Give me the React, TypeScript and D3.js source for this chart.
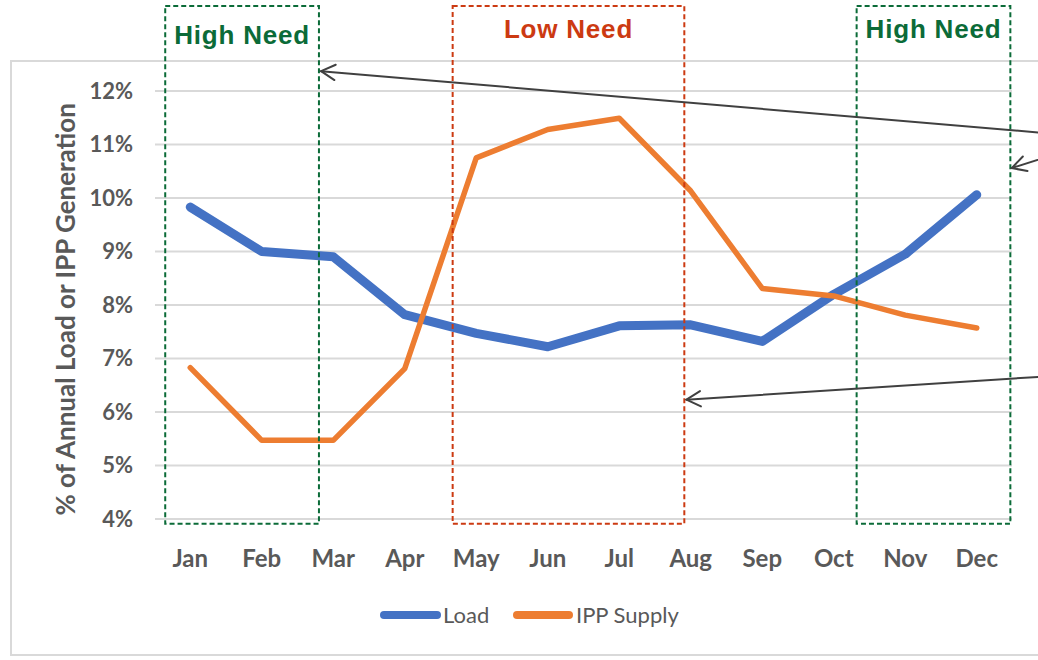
import { scaleBand, scaleLinear, line } from "d3";

const months = ["Jan", "Feb", "Mar", "Apr", "May", "Jun", "Jul", "Aug", "Sep", "Oct", "Nov", "Dec"];
const loadPct = [9.83, 9.0, 8.9, 7.82, 7.47, 7.22, 7.61, 7.63, 7.32, 8.2, 8.95, 10.06];
const ippPct = [6.83, 5.47, 5.47, 6.81, 10.75, 11.28, 11.49, 10.13, 8.31, 8.17, 7.81, 7.57];
const yTicks = [4, 5, 6, 7, 8, 9, 10, 11, 12];

// need zones, in month-index / percent units
const zones = [
  { label: "High Need", from: -0.35, to: 1.8, color: "#0B6B38", labelY: 12.88 },
  { label: "Low Need", from: 3.67, to: 6.91, color: "#CC3A12", labelY: 12.99 },
  { label: "High Need", from: 9.32, to: 11.47, color: "#0B6B38", labelY: 12.99 },
];
const zoneTop = 13.59;
const zoneBottom = 3.91;

// callout arrows: tail -> tip
const arrows = [
  { x1: 11.9, y1: 11.22, x2: 1.83, y2: 12.37 },
  { x1: 11.96, y1: 10.76, x2: 11.49, y2: 10.56 },
  { x1: 11.9, y1: 6.66, x2: 6.94, y2: 6.23 },
];

const series = [
  { name: "Load", values: loadPct, color: "#4472C4", width: 9 },
  { name: "IPP Supply", values: ippPct, color: "#ED7D31", width: 5.5 },
];

const FONT = "Lato, 'Open Sans', sans-serif";
const GRAY = "#595959";

export default function App() {
  const width = 1038;
  const height = 660;
  const x = scaleBand().domain(months).range([154.5, 1012.5]).padding(0);
  const bw = x.bandwidth();
  const cx = (m: string) => (x(m) ?? 0) + bw / 2;
  const xi = scaleLinear().domain([0, 11]).range([cx("Jan"), cx("Dec")]);
  const y = scaleLinear().domain([4, 12]).range([519, 91]);

  const mkLine = line<number>()
    .x((_, i) => cx(months[i]))
    .y((d) => y(d));

  const head = (a: (typeof arrows)[number]) => {
    const tx = xi(a.x2), ty = y(a.y2);
    const ang = Math.atan2(y(a.y1) - ty, xi(a.x1) - tx);
    const len = 16, spread = 0.5;
    const p1 = [tx + len * Math.cos(ang - spread), ty + len * Math.sin(ang - spread)];
    const p2 = [tx + len * Math.cos(ang + spread), ty + len * Math.sin(ang + spread)];
    return `M${p1[0]},${p1[1]}L${tx},${ty}L${p2[0]},${p2[1]}`;
  };

  return (
    <svg
      width={width}
      height={height}
      style={{ position: "absolute", left: 0, top: 0, background: "#fff" }}
      fontFamily={FONT}
    >
      {/* chart frame */}
      <rect x={11} y={61} width={1040} height={594} fill="none" stroke="#D9D9D9" strokeWidth={2} />

      {/* gridlines */}
      {yTicks.map((t) => (
        <line key={`g${t}`} x1={155} x2={1012} y1={y(t)} y2={y(t)} stroke="#D9D9D9" strokeWidth={2} />
      ))}

      {/* y tick labels */}
      {yTicks.map((t) => (
        <text
          key={`t${t}`}
          x={133}
          y={y(t)}
          dy="0.35em"
          textAnchor="end"
          fontSize={22}
          fontWeight="bold"
          fill={GRAY}
        >
          {t}%
        </text>
      ))}

      {/* month labels */}
      {months.map((m) => (
        <text key={m} x={cx(m)} y={567} textAnchor="middle" fontSize={24} fontWeight="bold" fill={GRAY}>
          {m}
        </text>
      ))}

      {/* y axis title */}
      <text
        transform={`translate(75, ${y(7.92)}) rotate(-90)`}
        textAnchor="middle"
        fontSize={26}
        fontWeight="bold"
        fill={GRAY}
      >
        % of Annual Load or IPP Generation
      </text>

      {/* series */}
      {series.map((s) => (
        <path
          key={s.name}
          d={mkLine(s.values) ?? ""}
          fill="none"
          stroke={s.color}
          strokeWidth={s.width}
          strokeLinejoin="round"
          strokeLinecap="round"
        />
      ))}

      {/* need zones */}
      {zones.map((z, i) => (
        <g key={`z${i}`}>
          <rect
            x={xi(z.from)}
            y={y(zoneTop)}
            width={xi(z.to) - xi(z.from)}
            height={y(zoneBottom) - y(zoneTop)}
            fill="none"
            stroke={z.color}
            strokeWidth={2}
            strokeDasharray="5 3"
          />
          <text
            x={(xi(z.from) + xi(z.to)) / 2}
            y={y(z.labelY)}
            textAnchor="middle"
            fontFamily="'Liberation Sans', Arial, sans-serif"
            fontSize={26}
            letterSpacing={0.8}
            fontWeight="bold"
            fill={z.color}
          >
            {z.label}
          </text>
        </g>
      ))}

      {/* callout arrows */}
      {arrows.map((a, i) => (
        <g key={`a${i}`} stroke="#404040" strokeWidth={2} fill="none" strokeLinecap="round">
          <line x1={xi(a.x1)} y1={y(a.y1)} x2={xi(a.x2)} y2={y(a.y2)} />
          <path d={head(a)} />
        </g>
      ))}

      {/* legend */}
      <g>
        <line x1={384} x2={437} y1={615} y2={615} stroke="#4472C4" strokeWidth={8} strokeLinecap="round" />
        <text x={443} y={615} dy="0.35em" fontSize={22} fill={GRAY}>Load</text>
        <line x1={517} x2={569} y1={615} y2={615} stroke="#ED7D31" strokeWidth={8} strokeLinecap="round" />
        <text x={576} y={615} dy="0.35em" fontSize={22} fill={GRAY}>IPP Supply</text>
      </g>
    </svg>
  );
}
